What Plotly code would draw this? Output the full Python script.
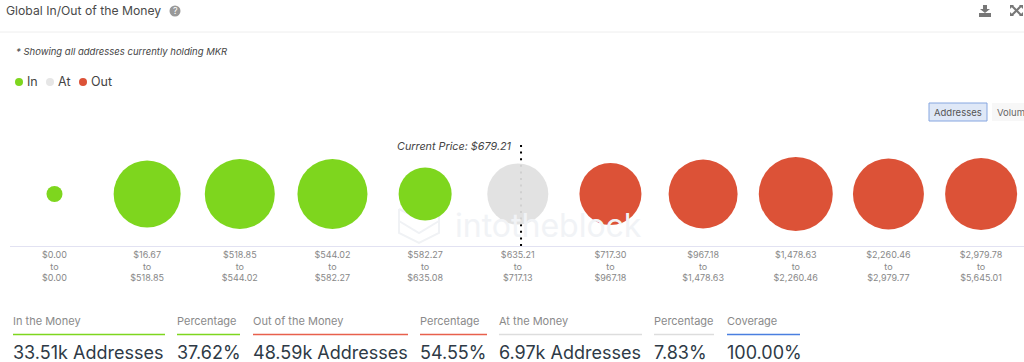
import plotly.graph_objects as go

# ---- data ----
range_from = ["$0.00", "$16.67", "$518.85", "$544.02", "$582.27", "$635.21",
              "$717.30", "$967.18", "$1,478.63", "$2,260.46", "$2,979.78"]
range_to = ["$0.00", "$518.85", "$544.02", "$582.27", "$635.08", "$717.13",
            "$967.18", "$1,478.63", "$2,260.46", "$2,979.77", "$5,645.01"]
addresses_k = [0.50, 8.75, 9.56, 9.56, 5.48, 7.26, 7.50, 9.28, 10.68, 9.83, 10.11]
status = ["In", "In", "In", "In", "In", "At", "Out", "Out", "Out", "Out", "Out"]
current_price_position = 5.035
current_price_label = "Current Price: $679.21"
kpi_labels = ["In the Money", "Percentage", "Out of the Money", "Percentage",
              "At the Money", "Percentage", "Coverage"]
kpi_values = ["33.51k Addresses", "37.62%", "48.59k Addresses", "54.55%",
              "6.97k Addresses", "7.83%", "100.00%"]

# ---- style ----
W, H = 1024, 362
FONT = "Inter"
COL = {"In": "#7ed61e", "At": "#e0e0e0", "Out": "#dc5237"}
OPAC = {"In": 1, "At": 0.93, "Out": 1}
KPI_X = [(13, 165), (177, 240), (253, 408), (420, 487), (499, 642), (654, 714), (727, 800)]
KPI_C = ["#7ed61e", "#7ed61e", "#e8604c", "#e8604c", "#dddddd", "#dddddd", "#4a7fe0"]


def px(x):
    return x / W


def py(y):
    return 1 - y / H


def text(x, y, s, size=12, color="#555", anchor="left"):
    # annotation boxes carry about 2px of padding on the left
    dx = -2 if anchor == "left" else 0
    return dict(xref="paper", yref="paper", x=px(x + dx), y=py(y), text=s, showarrow=False,
                xanchor=anchor, yanchor="middle", font=dict(family=FONT, size=size, color=color))


def line(x0, y0, x1, y1, color, width=1):
    return dict(type="line", xref="paper", yref="paper", x0=px(x0), x1=px(x1), y0=py(y0), y1=py(y1),
                line=dict(color=color, width=width))


def circle(cx, cy, r, color):
    return dict(type="circle", xref="paper", yref="paper", x0=px(cx - r), x1=px(cx + r),
                y0=py(cy - r), y1=py(cy + r), fillcolor=color, line=dict(width=0))


def poly(points, color=None, stroke=None, width=1):
    d = "M" + " L".join(f"{px(a):.5f},{py(b):.5f}" for a, b in points) + (" Z" if color else "")
    return dict(type="path", xref="paper", yref="paper", path=d, fillcolor=color,
                line=dict(color=stroke or "rgba(0,0,0,0)", width=width), layer="below")


fig = go.Figure()
for s in ["In", "At", "Out"]:
    idx = [i for i, v in enumerate(status) if v == s]
    fig.add_trace(go.Scatter(
        x=idx, y=[0] * len(idx), mode="markers", name=s, cliponaxis=False,
        marker=dict(size=[addresses_k[i] for i in idx], sizemode="area", sizeref=3.9 / 1000,
                    color=COL[s], opacity=OPAC[s], line=dict(width=0)),
        hoverinfo="skip", showlegend=False))

shapes = [
    line(0, 32, 1024, 32, "#eeeeee"),
    dict(type="line", xref="x", yref="paper", x0=current_price_position, x1=current_price_position,
         y0=py(246), y1=py(142), line=dict(color="#000000", width=2, dash="2px,4.6px"), layer="below"),
    circle(19, 82, 4, COL["In"]), circle(50, 82, 4, "#e6e6e6"), circle(83, 82, 4, COL["Out"]),
    circle(175, 11, 5.5, "#999999"),
    dict(type="rect", xref="paper", yref="paper", x0=px(929), x1=px(987), y0=py(121), y1=py(103),
         fillcolor="#dfe8f7", line=dict(color="#86a6e0", width=1)),
    dict(type="rect", xref="paper", yref="paper", x0=px(992), x1=px(1024), y0=py(121), y1=py(103),
         fillcolor="#f7f7f7", line=dict(width=0)),
    # download icon
    poly([(983, 5), (987, 5), (987, 9), (990, 9), (985, 13), (980, 9), (983, 9)], "#777777"),
    poly([(979, 13), (991, 13), (991, 17), (979, 17)], "#777777"),
    # expand icon
    line(1012, 6, 1021, 15, "#777777", 2), line(1021, 6, 1012, 15, "#777777", 2),
    poly([(1010, 5), (1014, 5), (1010, 9)], "#777777"), poly([(1023, 5), (1019, 5), (1023, 9)], "#777777"),
    poly([(1010, 16), (1014, 16), (1010, 12)], "#777777"), poly([(1023, 16), (1019, 16), (1023, 12)], "#777777"),
    # watermark logo
    poly([(399, 209), (419, 219), (439, 209), (439, 233), (419, 243), (399, 233), (399, 209)], None, "#f0f2f5", 2),
    poly([(399, 221), (419, 233), (439, 221)], None, "#f0f2f5", 2),
]
annotations = [
    text(6, 10, "Global In/Out of the Money", 12.2, "#4a4a4a"),
    text(16, 51, "<i>* Showing all addresses currently holding MKR</i>", 9.5, "#444"),
    text(27, 82, "In", 12.5, "#444"),
    text(58, 82, "At", 12.5, "#444"),
    text(91, 82, "Out", 12.5, "#444"),
    text(175, 11, "?", 9, "#ffffff", "center"),
    text(958, 112.5, "Addresses", 9.5, "#555", "center"),
    text(997, 112.5, "Volume", 9.5, "#666"),
    text(397, 146, f"<i>{current_price_label}</i>", 10.8, "#444"),
    text(455, 226, "intotheblock", 32, "#f1f3f6"),
]
for (x0, x1), c, lab, val in zip(KPI_X, KPI_C, kpi_labels, kpi_values):
    annotations.append(text(x0, 321, lab, 11, "#8a8a8a"))
    annotations.append(text(x0, 352, val, 18, "#2e3a46"))
    shapes.append(line(x0, 334.5, x1, 334.5, c, 1.5))

fig.update_layout(
    width=W, height=H, autosize=False,
    margin=dict(l=0, r=0, t=0, b=0, pad=0),
    paper_bgcolor="white", plot_bgcolor="white",
    showlegend=False, shapes=shapes, annotations=annotations,
    font=dict(family=FONT),
    xaxis=dict(domain=[px(10), 1], range=[-0.48, 10.463], showgrid=False, zeroline=False,
               tickmode="array", tickvals=list(range(len(range_from))),
               ticktext=[f"{a}<br>to<br>{b}" for a, b in zip(range_from, range_to)],
               tickfont=dict(family=FONT, size=9, color="#888888"), ticks="", ticklen=0,
               showline=True, linecolor="#e2e2f2", linewidth=1, automargin=False),
    yaxis=dict(domain=[py(246), py(142)], range=[-1, 1], visible=False, fixedrange=True),
)
fig.write_html("out.html", config=dict(displayModeBar=False),
               post_script="document.body.style.margin='0';document.documentElement.style.overflow='hidden';")
